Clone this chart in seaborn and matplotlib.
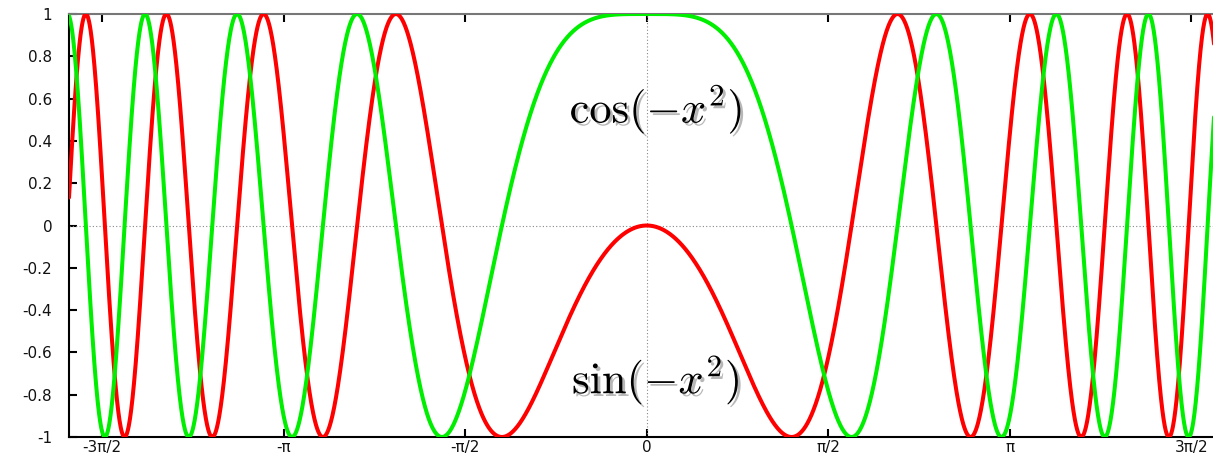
import numpy as np
import matplotlib
matplotlib.use("Agg")
import matplotlib.pyplot as plt
import matplotlib.patheffects as pe
import seaborn as sns

# Data: the chart plots the functions named in its labels
x_min, x_max = -5.0, 5.0
x = np.linspace(x_min, x_max, 4001)
sin_vals = np.sin(-x**2)
cos_vals = np.cos(-x**2)

x_ticks = [-3*np.pi/2, -np.pi, -np.pi/2, 0, np.pi/2, np.pi, 3*np.pi/2]
x_tick_labels = ["-3π/2", "-π", "-π/2", "0", "π/2", "π", "3π/2"]
y_ticks = [1, 0.8, 0.6, 0.4, 0.2, 0, -0.2, -0.4, -0.6, -0.8, -1]
y_tick_labels = ["1", "0.8", "0.6", "0.4", "0.2", "0", "-0.2", "-0.4", "-0.6", "-0.8", "-1"]

sns.set_theme(style="white")
plt.rcParams['font.family'] = ['DejaVu Sans']
plt.rcParams['mathtext.fontset'] = 'cm'

fig = plt.figure(figsize=(12.13, 4.55), dpi=100)
ax = fig.add_axes([69/1213, 18/455, (1224.5-69)/1213, (437-14)/455])

ax.axhline(0, color="#888888", lw=0.8, ls=(0, (1, 2)), zorder=1)
ax.axvline(0, color="#888888", lw=0.8, ls=(0, (1, 2)), zorder=1)

sns.lineplot(x=x, y=sin_vals, color="#ff0000", linewidth=2.9, ax=ax, estimator=None, zorder=3)
sns.lineplot(x=x, y=cos_vals, color="#00ee00", linewidth=2.9, ax=ax, estimator=None, zorder=3)

ax.set_xlim(x_min, x_max)
ax.set_ylim(-1, 1)
ax.set_xticks(x_ticks)
ax.set_xticklabels(x_tick_labels)
ax.set_yticks(y_ticks)
ax.set_yticklabels(y_tick_labels)
ax.tick_params(axis="both", direction="in", length=6, width=1.5, color="black",
               labelsize=11, labelcolor="#111111")
ax.tick_params(axis="x", top=True, bottom=True, pad=2)
ax.tick_params(axis="y", left=True, right=False, pad=12)

for s in ["left", "bottom"]:
    ax.spines[s].set_color("black")
    ax.spines[s].set_linewidth(1.5)
ax.spines["top"].set_color("#777777")
ax.spines["top"].set_linewidth(1.5)
ax.spines["right"].set_visible(False)
ax.set_xlabel("")
ax.set_ylabel("")

shadow = [pe.withSimplePatchShadow(offset=(2, -2), shadow_rgbFace="#999999", alpha=0.7)]
ax.text(0.08, 0.55, r"$\cos(-x^2)$", fontsize=32, ha="center", va="center",
        color="black", path_effects=shadow, zorder=5)
ax.text(0.08, -0.73, r"$\sin(-x^2)$", fontsize=32, ha="center", va="center",
        color="black", path_effects=shadow, zorder=5)

fig.savefig("out.png", dpi=100)
